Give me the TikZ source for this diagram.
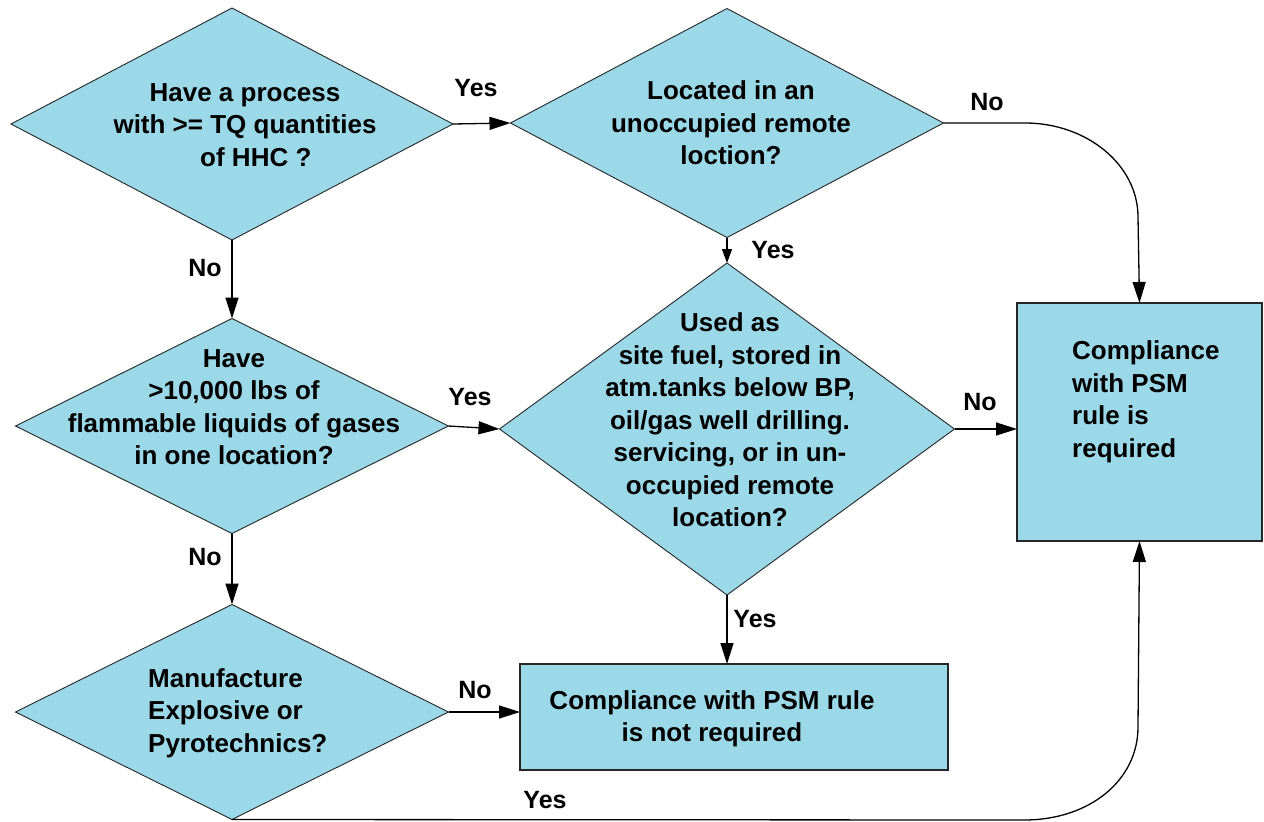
\documentclass[tikz,border=0pt]{standalone}
\usepackage{fontspec}
\setmainfont{Liberation Sans}
\usetikzlibrary{shapes.geometric,arrows.meta,calc}
\definecolor{fillblue}{RGB}{155,216,232}
\begin{document}
\begin{tikzpicture}[x=1pt,y=-1pt,
  dia/.style={diamond,draw=black!85,line width=0.9pt,fill=fillblue,inner sep=0pt,outer sep=0pt},
  boxnode/.style={rectangle,draw=black!85,line width=1.4pt,fill=fillblue,inner sep=0pt,outer sep=0pt},
  txt/.style={font=\fontsize{26}{32.5}\selectfont\bfseries,align=center,inner sep=0pt},
  txtl/.style={font=\fontsize{26}{32.5}\selectfont\bfseries,align=left,inner sep=0pt},
  lbl/.style={font=\fontsize{25}{30}\selectfont\bfseries,inner sep=0pt},
  conn/.style={line width=1.3pt,-{Triangle[length=21pt,width=13pt]}},
  connsmall/.style={line width=1.3pt,-{Triangle[length=14pt,width=10pt]}}]
\useasboundingbox (0,0) rectangle (1264,822);
% shapes
\node[dia,minimum width=442pt,minimum height=232pt] (d1) at (232,124) {};
\node[dia,minimum width=433pt,minimum height=229pt] (d2) at (727,123) {};
\node[dia,minimum width=455pt,minimum height=332pt] (d3) at (727,429) {};
\node[dia,minimum width=433pt,minimum height=215pt] (d4) at (232,426) {};
\node[dia,minimum width=433pt,minimum height=215pt] (d5) at (232,712) {};
\node[boxnode,minimum width=245pt,minimum height=238pt] (b1) at (1139.5,422) {};
\node[boxnode,minimum width=428pt,minimum height=106pt] (b2) at (734,717) {};
% texts
\node[txt] (t1) at (245,125) {Have a process\\with >= TQ quantities\\\ \ \ of HHC ?};
\node[txt] (t2) at (731,123) {Located in an\\unoccupied remote\\loction?};
\node[txt] (t3) at (730,420) {Used as\\site fuel, stored in\\atm.tanks below BP,\\oil/gas well drilling.\\servicing, or in un-\\occupied remote\\location?};
\node[txt] (t4) at (234,407) {Have\\>10,000 lbs of\\flammable liquids of gases\\in one location?};
\node[txtl,anchor=west] (t5) at (148,713) {Manufacture\\Explosive or\\Pyrotechnics?};
\node[txt] (t6) at (712,719) {Compliance with PSM rule\\is not required};
\node[txtl,anchor=west] (t7) at (1072,402) {Compliance\\with PSM\\rule is\\required};
% connectors
\coordinate (c1) at (1025,123);
\coordinate (c2) at (1138,217);
\coordinate (c3) at (1024,820);
\coordinate (c4) at (1138,727);
\draw[conn] (d1.south) -- (d4.north);
\draw[conn] (d1.east) -- (d2.west);
\draw[connsmall] (d2.south) -- (d3.north);
\draw[conn] (d2.east) -- (c1) .. controls (1087,123) and (1138,165) .. (c2) -- (b1.north);
\draw[conn] (d4.east) -- (d3.west);
\draw[conn] (d3.east) -- (d3.east -| b1.west);
\draw[conn] (d4.south) -- (d5.north);
\draw[conn] (d3.south) -- (d3.south |- b2.north);
\draw[conn] (d5.east) -- (d5.east -| b2.west);
\draw[conn] (d5.south) -- (c3) .. controls (1090,820) and (1138,780) .. (c4) -- (b1.south);
% labels
\node[lbl] (l1) at (476,88) {Yes};
\node[lbl] (l2) at (205,268) {No};
\node[lbl] (l3) at (773,250) {Yes};
\node[lbl] (l4) at (470,397) {Yes};
\node[lbl] (l5) at (980,402) {No};
\node[lbl] (l6) at (987,102) {No};
\node[lbl] (l7) at (205,557) {No};
\node[lbl] (l8) at (755,619) {Yes};
\node[lbl] (l9) at (475,690) {No};
\node[lbl] (l10) at (545,800) {Yes};
\end{tikzpicture}
\end{document}
